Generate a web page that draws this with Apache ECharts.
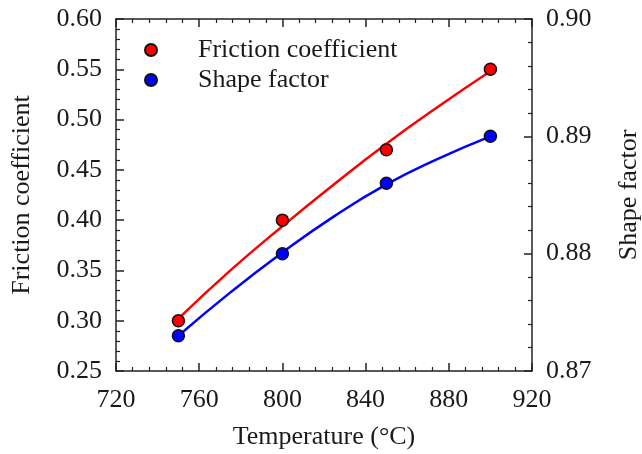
<!DOCTYPE html>
<html>
<head>
<meta charset="utf-8">
<script src="https://cdn.jsdelivr.net/npm/echarts@6/dist/echarts.min.js"></script>
<style>
html,body{margin:0;padding:0;background:#fff;}
#chart{width:642px;height:454px;}
</style>
</head>
<body>
<div id="chart"></div>
<script>
// Measured points
var temperatures = [750, 800, 850, 900];
var frictionValues = [0.30, 0.40, 0.47, 0.55];
var shapeValues = [0.873, 0.880, 0.886, 0.890];

// Fitted curves
var fitTemperatures = [750, 775, 800, 825, 850, 875, 900];
var frictionFit = [0.302, 0.350, 0.394, 0.436, 0.476, 0.513, 0.548];
var shapeFit = [0.8730, 0.8767, 0.8801, 0.8832, 0.8859, 0.8881, 0.8900];

// Axis settings
var xTicks = {min: 720, max: 920, interval: 40};
var leftTicks = {min: 0.25, max: 0.60, interval: 0.05};
var rightTicks = {min: 0.87, max: 0.90, interval: 0.01};

var seriesNames = ['Friction coefficient', 'Shape factor'];
var xTitle = 'Temperature (°C)';
var leftTitle = 'Friction coefficient';
var rightTitle = 'Shape factor';

function pairs(xs, ys) { return xs.map(function (x, i) { return [x, ys[i]]; }); }

var FONT = 'Liberation Serif';
var TXT = '#1a1a1a';
var AX = '#222';

var chart = echarts.init(document.getElementById('chart'), null, {renderer: 'canvas'});

function baseAxis() {
  return {
    axisLine: {show: true, onZero: false, lineStyle: {color: AX, width: 1.5}},
    axisTick: {show: true, inside: true, length: 8, lineStyle: {color: AX, width: 1.5}},
    minorTick: {show: true, splitNumber: 5, length: 4, lineStyle: {color: AX, width: 1.2}},
    splitLine: {show: false},
    minorSplitLine: {show: false},
    axisLabel: {color: TXT, fontFamily: FONT, fontSize: 26, margin: 14},
    nameTextStyle: {color: TXT, fontFamily: FONT, fontSize: 26}
  };
}

var xBottom = Object.assign(baseAxis(), {
  type: 'value', position: 'bottom', min: xTicks.min, max: xTicks.max, interval: xTicks.interval,
  name: xTitle, nameLocation: 'middle', nameGap: 53
});
xBottom.axisLabel.margin = 16;
var xTop = Object.assign(baseAxis(), {
  type: 'value', position: 'top', min: xTicks.min, max: xTicks.max, interval: xTicks.interval
});
xTop.axisLabel = {show: false};

var yLeft = Object.assign(baseAxis(), {
  type: 'value', position: 'left', min: leftTicks.min, max: leftTicks.max, interval: leftTicks.interval,
  name: leftTitle, nameLocation: 'middle', nameGap: 81, nameRotate: 90
});
yLeft.axisLabel.formatter = function (v) { return v.toFixed(2); };

var yRight = Object.assign(baseAxis(), {
  type: 'value', position: 'right', min: rightTicks.min, max: rightTicks.max, interval: rightTicks.interval,
  name: rightTitle, nameLocation: 'middle', nameGap: 84, nameRotate: 90
});
yRight.axisLabel.formatter = function (v) { return v.toFixed(2); };

chart.setOption({
  animation: false,
  backgroundColor: '#fff',
  grid: {left: 116, right: 110, top: 19, bottom: 83, containLabel: false, outerBoundsMode: 'none'},
  legend: {
    data: seriesNames,
    left: 144, top: 37, orient: 'vertical', padding: 0,
    icon: 'circle', itemWidth: 12, itemHeight: 12, itemGap: 4,
    textStyle: {color: TXT, fontFamily: FONT, fontSize: 26, lineHeight: 26, padding: [0, 0, 0, 36]}
  },
  xAxis: [xBottom, xTop],
  yAxis: [yLeft, yRight],
  series: [
    {
      name: 'frictionFit', type: 'line', xAxisIndex: 0, yAxisIndex: 0,
      data: pairs(fitTemperatures, frictionFit), smooth: true, showSymbol: false,
      lineStyle: {color: '#ff0000', width: 2.5}, z: 2
    },
    {
      name: 'shapeFit', type: 'line', xAxisIndex: 0, yAxisIndex: 1,
      data: pairs(fitTemperatures, shapeFit), smooth: true, showSymbol: false,
      lineStyle: {color: '#0000ff', width: 2.5}, z: 2
    },
    {
      name: seriesNames[0], type: 'scatter', xAxisIndex: 0, yAxisIndex: 0,
      data: pairs(temperatures, frictionValues), symbol: 'circle', symbolSize: 12,
      itemStyle: {color: '#ff0000', borderColor: '#111', borderWidth: 1.5, opacity: 1}, z: 5
    },
    {
      name: seriesNames[1], type: 'scatter', xAxisIndex: 0, yAxisIndex: 1,
      data: pairs(temperatures, shapeValues), symbol: 'circle', symbolSize: 12,
      itemStyle: {color: '#0000ff', borderColor: '#111', borderWidth: 1.5, opacity: 1}, z: 5
    }
  ]
});
</script>
</body>
</html>
